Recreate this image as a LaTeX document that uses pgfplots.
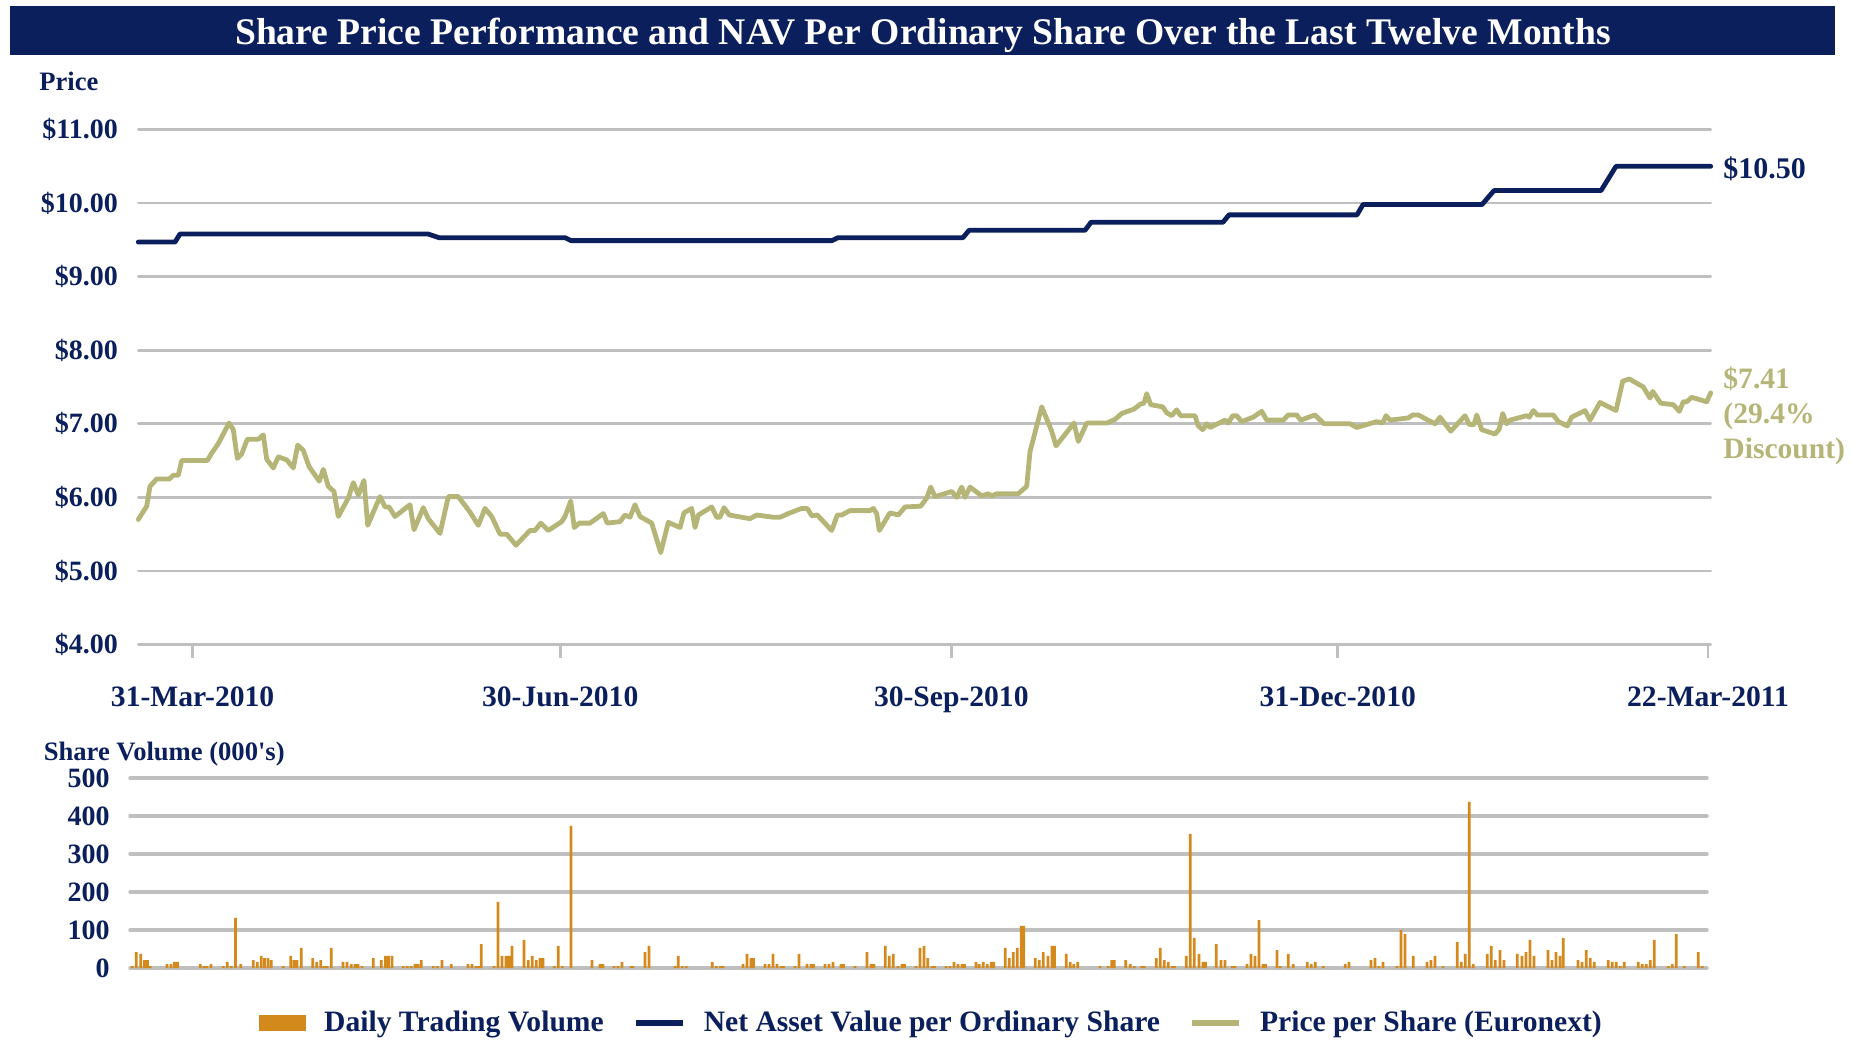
\documentclass[border=0pt]{standalone}
\usepackage{fontspec}
\setmainfont{Liberation Serif}
\usepackage{pgfplots}
\pgfplotsset{compat=1.18}
\definecolor{navy}{HTML}{0B1F5C}
\definecolor{khaki}{HTML}{B5B577}
\definecolor{vol}{HTML}{D4891D}
\definecolor{gridgray}{HTML}{BFBFBF}
\newcommand{\fs}[1]{\fontsize{#1}{#1}\selectfont\bfseries}
\begin{document}
\begin{tikzpicture}
\useasboundingbox (0,0) rectangle (926.5pt,-519.5pt);
\fill[navy] (5pt,-3pt) rectangle (917.5pt,-27.5pt);
\node[text=white, font=\fs{18.8pt}, inner sep=0pt] at (461.5pt,-17.5pt) {Share Price Performance and NAV Per Ordinary Share Over the Last Twelve Months};
\node[anchor=base west, inner sep=0pt, text=navy, font=\fs{13.3pt}] at (19.5pt,-45pt) {Price};
\node[anchor=base west, inner sep=0pt, text=navy, font=\fs{13.3pt}] at (21.7pt,-380pt) {Share Volume (000\textquotesingle s)};
\node[anchor=base west, inner sep=0pt, text=navy, font=\fs{15pt}] at (861.5pt,-89pt) {\$10.50};
\node[anchor=base west, inner sep=0pt, text=khaki, font=\fs{14.8pt}] at (861.5pt,-194pt) {\$7.41};
\node[anchor=base west, inner sep=0pt, text=khaki, font=\fs{14.8pt}] at (861.5pt,-211.5pt) {(29.4\%};
\node[anchor=base west, inner sep=0pt, text=khaki, font=\fs{14.8pt}] at (861.5pt,-229pt) {Discount)};

\begin{axis}[
  at={(69.15pt,-322.25pt)}, anchor=south west,
  scale only axis, width=786.2pt, height=257.5pt,
  xmin=138.3, xmax=1710.7, ymin=4, ymax=11,
  axis line style={draw=none},
  ytick={4,5,6,7,8,9,10,11},
  yticklabels={\$4.00,\$5.00,\$6.00,\$7.00,\$8.00,\$9.00,\$10.00,\$11.00},
  ymajorgrids, grid style={gridgray, line width=1.4pt, line cap=round},
  xtick={192.6,560.2,951.3,1337.8,1708},
  xticklabels={31-Mar-2010,30-Jun-2010,30-Sep-2010,31-Dec-2010,22-Mar-2011},
  xtick pos=bottom, ytick pos=left, tick align=outside, major tick length=6.5pt,
  xtick style={draw=gridgray, line width=1.4pt},
  ytick style={draw=none},
  xticklabel style={font=\fs{14.8pt}, text=navy, inner sep=0pt, yshift=-14.5pt},
  yticklabel style={font=\fs{14pt}, text=navy, inner sep=0pt, xshift=-3.5pt},
  clip=false,
]
\addplot[navy, line width=2.4pt, line join=round, line cap=round] coordinates {
(138.3,9.47)(175,9.47)(180,9.58)(428,9.58)(439,9.53)(565,9.53)(571,9.49)(832,9.49)(838,9.53)(963,9.53)(969,9.63)(1085,9.63)(1091,9.74)(1223,9.74)(1229,9.84)(1357,9.84)(1363,9.98)(1482,9.98)(1494,10.17)(1601,10.17)(1616,10.50)(1710.7,10.50)
};
\addplot[khaki, line width=2.4pt, line join=round, line cap=round] coordinates {
(138.3,5.70)(146.7,5.88)(150,6.15)(156.7,6.25)(169.3,6.25)(173.3,6.30)(178.3,6.30)(181.7,6.50)(207.3,6.50)(211.7,6.60)(218.3,6.73)(229,7.01)(233.3,6.92)(237.3,6.53)(241.7,6.59)(247.3,6.79)(258.3,6.79)(263.3,6.85)(266.7,6.52)(273.3,6.40)(278.3,6.55)(286.7,6.51)(293.3,6.40)(297.7,6.71)(303.3,6.64)(309,6.42)(319.3,6.22)(323.3,6.38)(328.3,6.15)(334,6.08)(338.3,5.74)(348.3,5.99)(353.3,6.20)(358.3,6.03)(364,6.23)(367.7,5.62)(380,6.01)(385,5.87)(389,5.87)(395,5.74)(410,5.90)(414,5.56)(423.3,5.86)(428.3,5.71)(440,5.51)(448.3,6.01)(458.3,6.01)(470,5.80)(478.3,5.62)(485,5.85)(491.7,5.74)(500,5.50)(506.7,5.50)(516,5.35)(530,5.55)(535,5.55)(540.7,5.65)(548.3,5.55)
(561.7,5.67)(565,5.74)(570.7,5.95)(574.3,5.59)(579.3,5.65)(590,5.65)(603.3,5.78)(607.3,5.65)(620,5.67)(625,5.76)(630,5.73)(635,5.90)(640,5.74)(651.7,5.65)(660.7,5.25)(668.3,5.66)(680,5.59)(684,5.79)(691.7,5.85)(695,5.59)(698.3,5.76)(711.7,5.87)(716.7,5.73)(720,5.73)(724,5.86)(729.3,5.76)(750,5.71)(756.7,5.76)(773.3,5.73)(780,5.73)(788.3,5.78)(801.7,5.85)(807.3,5.85)(811.7,5.75)(817.3,5.76)(831.7,5.55)(837.3,5.76)(841.7,5.76)(850,5.82)(870,5.82)(873.3,5.85)(876.7,5.78)(879.3,5.55)(890,5.79)(898.3,5.76)(905,5.87)(920.7,5.88)(926.7,5.99)(930.7,6.14)(935,6.01)
(951.7,6.08)(956.7,6.00)(961.7,6.14)(965,6.00)(970,6.14)(981.7,6.02)(988.3,6.05)(991.7,6.02)(996.7,6.05)(1018.3,6.05)(1026.7,6.15)(1030,6.62)(1041.7,7.23)(1051.7,6.90)(1056,6.70)(1074,7.01)(1078.3,6.76)(1086.7,7.01)(1106.7,7.01)(1115,7.06)(1121.7,7.14)(1134,7.20)(1140.7,7.27)(1144,7.28)(1146.7,7.41)(1150.7,7.26)(1162.7,7.23)(1166.7,7.15)(1171.7,7.11)(1176.7,7.19)(1180.7,7.11)(1195,7.11)(1198.3,6.97)(1202.7,6.92)(1206.7,7.00)(1210,6.95)(1225,7.05)(1228.3,7.01)(1232.7,7.11)(1236.7,7.11)(1241.7,7.03)(1253.3,7.09)(1261.7,7.17)(1266.7,7.05)(1283.3,7.05)(1288.3,7.12)(1296.7,7.12)(1300.7,7.05)(1315,7.12)(1324,7.00)(1350,7.00)
(1356.7,6.95)(1376.7,7.03)(1382.7,7.01)(1386,7.11)(1390,7.05)(1408.3,7.08)(1412.7,7.12)(1418.3,7.12)(1435,7.00)(1440,7.09)(1450.7,6.90)(1465,7.11)(1469.3,6.99)(1474,6.99)(1476.7,7.12)(1481.7,6.92)(1495,6.86)(1499.3,6.93)(1502.7,7.14)(1506.7,7.00)(1510,7.05)(1526.7,7.11)(1529.3,7.09)(1533.3,7.18)(1537.3,7.12)(1553.3,7.12)(1558.3,7.03)(1567.3,6.97)(1571.7,7.09)(1585,7.18)(1590,7.05)(1600,7.29)(1616,7.18)(1622.7,7.58)(1629.3,7.61)(1643.3,7.50)(1650,7.35)(1652.7,7.44)(1660.7,7.28)(1673.3,7.26)(1679.3,7.17)(1683.3,7.30)(1686.7,7.30)(1691.7,7.36)(1706.7,7.30)(1710.7,7.42)
};
\end{axis}

\begin{axis}[
  at={(65pt,-484pt)}, anchor=south west,
  scale only axis, width=788.5pt, height=95pt,
  xmin=130, xmax=1707, ymin=0, ymax=500,
  axis line style={draw=none},
  ytick={0,100,200,300,400,500},
  yticklabels={0,100,200,300,400,500},
  ymajorgrids, grid style={gridgray, line width=1.7pt, line cap=round},
  xtick=\empty, ytick style={draw=none},
  yticklabel style={font=\fs{14pt}, text=navy, inner sep=0pt, xshift=-10pt},
  clip=false,
  legend columns=3,
  legend style={at={(0.5076,-0.2895)}, anchor=center, draw=none, fill=none,
    font=\fs{14.8pt}, text=navy, inner sep=0pt,
    nodes={inner sep=0pt},
    /tikz/every odd column/.append style={column sep=9pt},
    /tikz/every even column/.append style={column sep=14.5pt}},
]
\addplot[ybar, fill=vol, draw=none, bar width=2.7, bar shift=0pt,
  legend image code/.code={\fill[vol] (0pt,-4pt) rectangle (23.5pt,4pt);}] coordinates {
(132.3,5)(136.3,42)(140.7,37)(144.5,21)(147.5,21)(150.3,5)(167,10)(171,10)(174.5,16)(177.5,16)(200.3,10)(204,5)(207,5)(211,10)(223.3,5)(227.3,16)(231.3,5)(235.5,132)(240.7,10)(253.3,21)(257.3,16)(261.3,32)(264.5,26)(268,26)(271.3,21)(283.3,5)(290.7,32)(294,21)(297,21)(301.3,53)(312.7,26)(316.7,16)(320.7,21)(324,5)(327,5)(331.3,53)(343,16)(347,16)(351.3,10)(355,10)(358,10)(362,5)(373.3,26)(381.3,21)(385.5,32)(388.5,32)(392,32)(403.3,5)(407.3,5)(411.3,5)(415,10)(418,10)(421.3,21)(433.3,5)(437.3,5)(442,21)(451.3,10)(468,10)(472,10)(476,5)(479,5)(481.3,63)(494,5)(498,174)(502,32)(506,32)(509,32)(512,58)(524,74)
(528.3,21)(532.3,32)(536.3,21)(540,26)(543,26)(554.3,5)(558.3,58)(562.3,5)(571,374)(592,21)(600,10)(603,10)(614,5)(618,5)(622,16)(631,5)(633,5)(645,42)(649,58)(675,5)(678.3,32)(682.3,5)(686.3,5)(712.3,16)(716.3,5)(720.5,5)(723,5)(743,10)(747,37)(751,26)(753.5,26)(765,10)(769,10)(773,37)(777,10)(781,5)(783.5,5)(795,5)(799,37)(807,10)(811,10)(813.5,10)(825,10)(829,10)(833,16)(841,10)(843.5,10)(855,5)(867,42)(871,10)(874,10)(885.3,58)(889.3,32)(893.3,37)(898,5)(902,10)(904.5,10)(916,5)(920,53)(924,58)
(927.7,26)(932.3,5)(934.8,5)(946,5)(950,5)(954,16)(958,10)(962,10)(964.5,10)(976,16)(979.3,10)(983.3,16)(987.3,10)(991.3,16)(993.8,16)(1005.3,53)(1009.3,26)(1013.3,42)(1017.3,53)(1021.3,111)(1023.8,111)(1035.3,26)(1039.3,21)(1043.3,42)(1048,32)(1052,58)(1054.5,58)(1066.3,37)(1070.3,16)(1073.7,10)(1077.7,16)(1100,5)(1108.3,5)(1111.7,21)(1114.2,21)(1125.7,21)(1130.3,10)(1134.3,5)(1141.7,5)(1144.2,5)(1156.3,26)(1160.3,53)(1164.3,21)(1168.3,16)(1172.3,5)(1174.8,5)(1186.3,32)(1190.3,353)(1194.3,79)(1199,37)(1203,16)(1205.5,16)(1216.3,63)(1221,21)(1225,21)(1232.3,5)(1235,5)(1247,10)(1251,37)(1255,32)(1259,126)(1263,10)(1265.5,10)(1277,47)(1280.3,5)(1288.3,37)(1293.3,10)(1307.3,16)(1311.3,10)(1315.3,16)(1323.3,5)
(1345.3,10)(1349,16)(1371,21)(1375,26)(1379,5)(1383,16)(1397,5)(1401,100)(1405,89)(1413.3,32)(1427,16)(1431,21)(1435,32)(1443,5)(1457.3,68)(1461.3,16)(1465.3,37)(1469.3,437)(1473.3,10)(1487.3,37)(1491.3,58)(1495.3,21)(1500,47)(1504,21)(1517.3,37)(1522,32)(1526,42)(1530,74)(1534,32)(1548,47)(1552,21)(1556,42)(1560,32)(1563.3,79)(1578,21)(1582,16)(1586.3,47)(1590.3,26)(1594.3,16)(1608.3,21)(1612.3,16)(1616.3,16)(1620.3,5)(1624.3,16)(1638.3,16)(1642.3,10)(1646.3,10)(1650.3,21)(1654.3,74)(1668.3,5)(1672.3,10)(1676.3,89)(1684.3,5)(1698.3,42)(1702.3,5)
};
\addlegendentry{Daily Trading Volume}
\addlegendimage{legend image code/.code={\draw[navy, line width=3pt] (0pt,0pt) -- (23.5pt,0pt);}}
\addlegendentry{Net Asset Value per Ordinary Share}
\addlegendimage{legend image code/.code={\draw[khaki, line width=3pt] (0pt,0pt) -- (23.5pt,0pt);}}
\addlegendentry{Price per Share (Euronext)}
\end{axis}
\end{tikzpicture}
\end{document}
